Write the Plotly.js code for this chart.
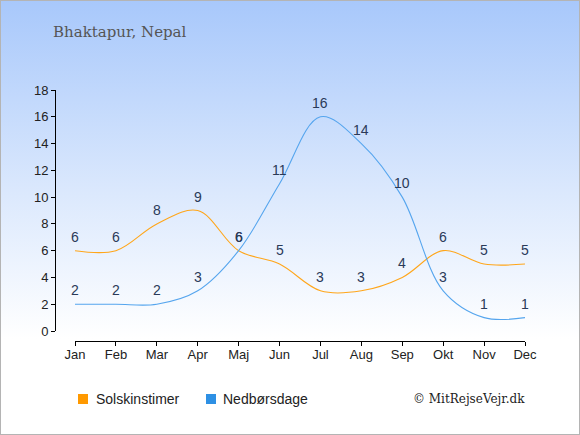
<!DOCTYPE html>
<html>
<head>
<meta charset="utf-8">
<script src="https://cdn.plot.ly/plotly-3.0.1.min.js"></script>
<style>
html,body{margin:0;padding:0;}
#wrap{width:578px;height:433px;border:1px solid #b4b4b4;background:linear-gradient(to bottom,#a8c8fb 0%,#dce9fd 45%,#ffffff 78%,#ffffff 100%);}
#chart{width:578px;height:433px;}
</style>
</head>
<body>
<div id="wrap"><div id="chart"></div></div>
<script>
var months = ["Jan","Feb","Mar","Apr","Maj","Jun","Jul","Aug","Sep","Okt","Nov","Dec"];
var sunHours = [6,6,8,9,6,5,3,3,4,6,5,5];
var rainDays = [2,2,2,3,6,11,16,14,10,3,1,1];
var yTicks = [0,2,4,6,8,10,12,14,16,18];
var seriesNames = ["Solskinstimer","Nedbørsdage"];

var xIdx = months.map(function(m,i){return i;});
var labelFont = {family:"Liberation Sans, Arial, sans-serif", size:14, color:"#2a3a58"};
var tickFont = {family:"Liberation Sans, Arial, sans-serif", size:13, color:"#222"};

var traces = [
  {x:xIdx, y:sunHours, mode:"lines", line:{color:"#ffa61a", width:1.1, shape:"spline", smoothing:1}, showlegend:false, hoverinfo:"none"},
  {x:xIdx, y:rainDays, mode:"lines", line:{color:"#55a5ee", width:1.1, shape:"spline", smoothing:1}, showlegend:false, hoverinfo:"none"}
];

var W = 578, H = 433;
var L = 54, R = 524, T = 89, B = 340;
var pw = R - L, ph = B - T;
var xStart = 74, yZero = 330;

var dataLabels = [];
[sunHours, rainDays].forEach(function(series){
  series.forEach(function(v,i){
    dataLabels.push({x:xIdx[i], y:v, xref:"x", yref:"y", text:String(v), showarrow:false,
      xanchor:"center", yanchor:"middle", yshift:14, font:labelFont});
  });
});

var layout = {
  width:W, height:H,
  margin:{l:L, r:W-R, t:T, b:H-B, pad:0},
  paper_bgcolor:"rgba(0,0,0,0)", plot_bgcolor:"rgba(0,0,0,0)",
  showlegend:false,
  xaxis:{
    domain:[(xStart-L)/pw, 1], anchor:"free", position:0,
    range:[0,11], tickvals:xIdx, ticktext:months,
    showline:true, linecolor:"#000", linewidth:1,
    ticks:"outside", ticklen:4, tickcolor:"#000",
    ticklabelstandoff:-3,
    showgrid:false, zeroline:false, fixedrange:true,
    tickfont:tickFont
  },
  yaxis:{
    domain:[(B-yZero)/ph, 1], anchor:"free", position:0,
    range:[0,18], tickvals:yTicks,
    showline:true, linecolor:"#000", linewidth:1,
    ticks:"outside", ticklen:4, tickcolor:"#000",
    showgrid:false, zeroline:false, fixedrange:true,
    tickfont:tickFont
  },
  shapes:[
    {type:"rect", xref:"paper", yref:"paper", x0:(77-L)/pw, x1:(87-L)/pw, y0:(B-403)/ph, y1:(B-393)/ph, fillcolor:"#ff9900", line:{width:0}},
    {type:"rect", xref:"paper", yref:"paper", x0:(205-L)/pw, x1:(215-L)/pw, y0:(B-403)/ph, y1:(B-393)/ph, fillcolor:"#2e90e4", line:{width:0}}
  ],
  annotations:dataLabels.concat([
    {text:"Bhaktapur, Nepal", xref:"paper", yref:"paper", x:(50-L)/pw, y:(B-31)/ph, xanchor:"left", yanchor:"middle", showarrow:false,
     font:{family:"DejaVu Serif, Liberation Serif, serif", size:15, color:"#555"}},
    {text:seriesNames[0], xref:"paper", yref:"paper", x:(93-L)/pw, y:(B-398)/ph, xanchor:"left", yanchor:"middle", showarrow:false,
     font:{family:"Liberation Sans, Arial, sans-serif", size:14, color:"#222"}},
    {text:seriesNames[1], xref:"paper", yref:"paper", x:(220-L)/pw, y:(B-398)/ph, xanchor:"left", yanchor:"middle", showarrow:false,
     font:{family:"Liberation Sans, Arial, sans-serif", size:14, color:"#222"}},
    {text:"© MitRejseVejr.dk", xref:"paper", yref:"paper", x:(526-L)/pw, y:(B-398)/ph, xanchor:"right", yanchor:"middle", showarrow:false,
     font:{family:"DejaVu Serif, Liberation Serif, serif", size:12, color:"#222"}}
  ])
};

Plotly.newPlot("chart", traces, layout, {displayModeBar:false, staticPlot:true});
</script>
</body>
</html>
